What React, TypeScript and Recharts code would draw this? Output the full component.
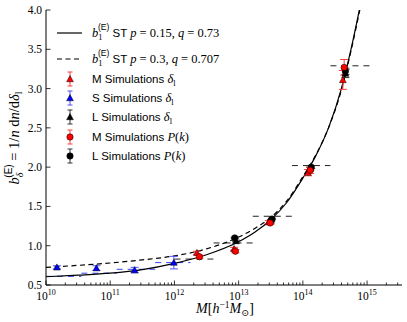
import React from 'react'
import { ComposedChart, Line, Scatter, XAxis, YAxis, ErrorBar, ReferenceLine, Legend } from 'recharts'

// ST bias curves
const curveMass = [1e10, 3.16e10, 1e11, 3.16e11, 1e12, 3.16e12, 1e13, 1.78e13, 3.16e13, 5.62e13, 1e14, 1.58e14, 2.51e14, 3.98e14, 5.62e14, 7.94e14]
const stSolid = [0.605, 0.625, 0.65, 0.695, 0.775, 0.885, 1.05, 1.17, 1.33, 1.55, 1.86, 2.14, 2.5, 3.0, 3.5, 4.08]
const stDashed = [0.725, 0.75, 0.78, 0.82, 0.87, 0.96, 1.11, 1.22, 1.36, 1.57, 1.88, 2.15, 2.5, 2.98, 3.48, 4.05]

// simulations
const mDeltaMass = [2.24e12, 8.5e12, 2.95e13, 1.2e14, 4.2e14]
const mDeltaBias = [0.91, 0.96, 1.3, 1.93, 3.11]
const mDeltaErr = [0.02, 0.02, 0.02, 0.04, 0.12]
const sDeltaMass = [1.48e10, 6.1e10, 2.4e11, 9.8e11]
const sDeltaBias = [0.725, 0.715, 0.69, 0.785]
const sDeltaErr = [0.02, 0.03, 0.035, 0.08]
const lDeltaMass = [9.1e12, 3.2e13, 1.3e14, 4.6e14]
const lDeltaBias = [1.06, 1.32, 1.98, 3.19]
const lDeltaErr = [0.01, 0.01, 0.02, 0.05]
const mPkMass = [2.45e12, 8.9e12, 3.1e13, 1.3e14, 4.4e14]
const mPkBias = [0.86, 0.93, 1.29, 1.96, 3.27]
const mPkErr = [0.02, 0.02, 0.02, 0.04, 0.1]
const lPkMass = [8.7e12, 3.3e13, 1.35e14, 4.6e14]
const lPkBias = [1.1, 1.34, 2.0, 3.22]
const lPkErr = [0.01, 0.01, 0.02, 0.04]

// bin-averaged ST values (dashed steps)
const binEdgesS = [1e10, 3.55e10, 1.26e11, 5.01e11, 1.78e12]
const binLevelsS = [0.61, 0.65, 0.7, 0.785]
const binEdgesL = [1e12, 4.07e12, 1.66e13, 6.76e13, 2.69e14, 1.17e15]
const binLevelsL = [0.83, 1.035, 1.375, 2.02, 3.29]

const xTicksMajor = [1e10, 1e11, 1e12, 1e13, 1e14, 1e15]
const yTicks = [0.5, 1.0, 1.5, 2.0, 2.5, 3.0, 3.5, 4.0]

const xMax = 3.5e15
const xTicksAll = xTicksMajor.flatMap((d) => [1, 2, 3, 4, 5, 6, 7, 8, 9].map((k) => k * d)).filter((v) => v <= xMax)

const SERIF = '"Liberation Serif", "DejaVu Serif", serif'
const SANS = '"Liberation Sans", "DejaVu Sans", sans-serif'

const curve = (ys: number[]) => curveMass.map((m, i) => ({ x: m, y: ys[i] }))
const points = (xs: number[], ys: number[], es: number[]) => xs.map((m, i) => ({ x: m, y: ys[i], err: es[i] }))

const isMajor = (v: number) => {
    const e = Math.round(Math.log10(v))
    return Math.abs(v - Math.pow(10, e)) < 1e-6 * v
}

function XTick(props: any) {
    const { x, y, payload, top } = props
    const v = payload.value
    const major = isMajor(v)
    const len = major ? 4.5 : 2.5
    const dir = top ? 1 : -1
    return (
        <g>
            <line x1={x} x2={x} y1={y} y2={y + dir * len} stroke="#000" strokeWidth={0.8} />
            {major && !top && (
                <text x={x} y={y + 15} textAnchor="middle" fontFamily={SERIF} fontSize={11.5} fill="#000">
                    10<tspan dy={-5} fontSize={8}>{Math.round(Math.log10(v))}</tspan>
                </text>
            )}
        </g>
    )
}

function YTick(props: any) {
    const { x, y, payload, right } = props
    const dir = right ? -1 : 1
    return (
        <g>
            <line x1={x} x2={x + dir * 4.5} y1={y} y2={y} stroke="#000" strokeWidth={0.8} />
            {!right && (
                <text x={x - 4} y={y + 4} textAnchor="end" fontFamily={SERIF} fontSize={11.5} fill="#000">
                    {payload.value.toFixed(1)}
                </text>
            )}
        </g>
    )
}

function Tri({ cx, cy, fill }: any) {
    const r = 3.4
    return <polygon points={`${cx},${cy - r} ${cx - r},${cy + r * 0.8} ${cx + r},${cy + r * 0.8}`} fill={fill} stroke="#000" strokeWidth={0.5} />
}

function Dot({ cx, cy, fill }: any) {
    return <circle cx={cx} cy={cy} r={3.2} fill={fill} stroke="#000" strokeWidth={0.5} />
}

function YLabel() {
    const x = 19
    const y = 138
    return (
        <text transform={`rotate(-90 ${x} ${y})`} x={x} y={y} textAnchor="middle" fontFamily={SERIF} fontSize={14.5} fill="#000">
            <tspan fontStyle="italic">b</tspan>
            <tspan dy={4} fontSize={10} fontStyle="italic">δ</tspan>
            <tspan dx={-5} dy={-11} fontSize={10} fontFamily={SANS}>(E)</tspan>
            <tspan dy={7}> = 1/</tspan>
            <tspan fontStyle="italic">n</tspan>
            <tspan> d</tspan>
            <tspan fontStyle="italic">n</tspan>
            <tspan>/d</tspan>
            <tspan fontStyle="italic">δ</tspan>
            <tspan dy={3} fontSize={10}>l</tspan>
        </text>
    )
}

function XLabel() {
    return (
        <text x={225} y={313} textAnchor="middle" fontFamily={SERIF} fontSize={14} fill="#000">
            <tspan fontStyle="italic">M</tspan>
            <tspan>[</tspan>
            <tspan fontStyle="italic">h</tspan>
            <tspan dy={-5} fontSize={9.5}>−1</tspan>
            <tspan dy={5} fontStyle="italic">M</tspan>
            <tspan dy={3} fontSize={9.5}>⊙</tspan>
            <tspan dy={-3}>]</tspan>
        </text>
    )
}

function LegendMarker({ y, color, barColor, tri }: any) {
    const cx = 18
    return (
        <g>
            <line x1={cx} x2={cx} y1={y - 7} y2={y + 7} stroke={barColor} strokeWidth={1} />
            <line x1={cx - 2.5} x2={cx + 2.5} y1={y - 7} y2={y - 7} stroke={barColor} strokeWidth={1} />
            <line x1={cx - 2.5} x2={cx + 2.5} y1={y + 7} y2={y + 7} stroke={barColor} strokeWidth={1} />
            {tri ? <Tri cx={cx} cy={y} fill={color} /> : <Dot cx={cx} cy={y} fill={color} />}
        </g>
    )
}

function StText({ y, p, q }: any) {
    return (
        <text x={40} y={y + 4} fontFamily={SERIF} fontSize={12.5} fill="#000">
            <tspan fontStyle="italic">b</tspan>
            <tspan dy={3} fontSize={8.5}>1</tspan>
            <tspan dx={-4.5} dy={-10} fontSize={8.5} fontFamily={SANS}>(E)</tspan>
            <tspan dy={7} fontFamily={SANS} fontSize={11.5}> ST </tspan>
            <tspan fontStyle="italic">p</tspan>
            <tspan> = {p}, </tspan>
            <tspan fontStyle="italic">q</tspan>
            <tspan> = {q}</tspan>
        </text>
    )
}

function SimText({ y, label, pk }: any) {
    return (
        <text x={40} y={y + 4} fontFamily={SANS} fontSize={11.5} fill="#000">
            {label} Simulations{' '}
            {pk ? (
                <tspan fontFamily={SERIF} fontSize={12.5}>
                    <tspan fontStyle="italic">P</tspan>(<tspan fontStyle="italic">k</tspan>)
                </tspan>
            ) : (
                <tspan fontFamily={SERIF} fontSize={12.5}>
                    <tspan fontStyle="italic">δ</tspan>
                    <tspan dy={3} fontSize={8.5}>l</tspan>
                </tspan>
            )}
        </text>
    )
}

function LegendBox() {
    return (
        <svg width={190} height={150}>
            <line x1={5} x2={30} y1={15} y2={15} stroke="#000" strokeWidth={1.2} />
            <StText y={15} p="0.15" q="0.73" />
            <line x1={5} x2={30} y1={41} y2={41} stroke="#000" strokeWidth={1.2} strokeDasharray="5 3.5" />
            <StText y={41} p="0.3" q="0.707" />
            <LegendMarker y={61} color="#ff0000" barColor="#ff4040" tri />
            <SimText y={61} label="M" />
            <LegendMarker y={80} color="#0000ff" barColor="#5050ff" tri />
            <SimText y={80} label="S" />
            <LegendMarker y={99} color="#000" barColor="#333" tri />
            <SimText y={99} label="L" />
            <LegendMarker y={119} color="#ff0000" barColor="#ff4040" />
            <SimText y={119} label="M" pk />
            <LegendMarker y={138} color="#000" barColor="#333" />
            <SimText y={138} label="L" pk />
        </svg>
    )
}

export default function App() {
    const segS = binLevelsS.map((v, i) => [{ x: binEdgesS[i], y: v }, { x: binEdgesS[i + 1], y: v }])
    const segL = binLevelsL.map((v, i) => [{ x: binEdgesL[i], y: v }, { x: binEdgesL[i + 1], y: v }])
    return (
        <div style={{ position: 'absolute', left: 0, top: 0, width: 407, height: 322, background: '#fff' }}>
            <ComposedChart width={407} height={322} margin={{ top: 10, right: 5, bottom: 0, left: 0 }}>
                <XAxis
                    dataKey="x"
                    type="number"
                    scale="log"
                    domain={[1e10, xMax]}
                    allowDataOverflow
                    ticks={xTicksAll}
                    interval={0}
                    tick={<XTick />}
                    tickLine={false}
                    tickSize={0}
                    tickMargin={0}
                    height={37}
                    axisLine={{ stroke: '#000', strokeWidth: 1 }}
                    label={<XLabel />}
                />
                <XAxis
                    xAxisId="top"
                    orientation="top"
                    type="number"
                    scale="log"
                    domain={[1e10, xMax]}
                    allowDataOverflow
                    ticks={xTicksAll}
                    interval={0}
                    tick={<XTick top />}
                    tickLine={false}
                    tickSize={0}
                    tickMargin={0}
                    height={0}
                    axisLine={{ stroke: '#000', strokeWidth: 1 }}
                />
                <YAxis
                    type="number"
                    domain={[0.5, 4]}
                    allowDataOverflow
                    ticks={yTicks}
                    interval={0}
                    tick={<YTick />}
                    tickLine={false}
                    tickSize={0}
                    tickMargin={0}
                    width={46}
                    axisLine={{ stroke: '#000', strokeWidth: 1 }}
                    label={<YLabel />}
                />
                <YAxis
                    yAxisId="right"
                    orientation="right"
                    type="number"
                    domain={[0.5, 4]}
                    allowDataOverflow
                    ticks={yTicks}
                    interval={0}
                    tick={<YTick right />}
                    tickLine={false}
                    tickSize={0}
                    tickMargin={0}
                    width={0}
                    axisLine={{ stroke: '#000', strokeWidth: 1 }}
                />
                {segS.map((s, i) => (
                    <ReferenceLine key={'s' + i} segment={s} stroke="#3344ee" strokeWidth={1} strokeDasharray="6 5" ifOverflow="hidden" />
                ))}
                {segL.map((s, i) => (
                    <ReferenceLine key={'l' + i} segment={s} stroke="#222" strokeWidth={1} strokeDasharray="6 5" ifOverflow="hidden" />
                ))}
                <Line data={curve(stSolid)} dataKey="y" type="monotone" stroke="#000" strokeWidth={1.2} dot={false} isAnimationActive={false} />
                <Line data={curve(stDashed)} dataKey="y" type="monotone" stroke="#000" strokeWidth={1.2} strokeDasharray="5 3.5" dot={false} isAnimationActive={false} />
                <Scatter data={points(sDeltaMass, sDeltaBias, sDeltaErr)} dataKey="y" shape={(p: any) => <Tri cx={p.cx} cy={p.cy} fill="#0000ff" />} isAnimationActive={false}>
                    <ErrorBar dataKey="err" direction="y" width={4} stroke="#5050ff" strokeWidth={1} />
                </Scatter>
                <Scatter data={points(lDeltaMass, lDeltaBias, lDeltaErr)} dataKey="y" shape={(p: any) => <Tri cx={p.cx} cy={p.cy} fill="#000" />} isAnimationActive={false}>
                    <ErrorBar dataKey="err" direction="y" width={4} stroke="#333" strokeWidth={1} />
                </Scatter>
                <Scatter data={points(lPkMass, lPkBias, lPkErr)} dataKey="y" shape={(p: any) => <Dot cx={p.cx} cy={p.cy} fill="#000" />} isAnimationActive={false}>
                    <ErrorBar dataKey="err" direction="y" width={4} stroke="#333" strokeWidth={1} />
                </Scatter>
                <Scatter data={points(mDeltaMass, mDeltaBias, mDeltaErr)} dataKey="y" shape={(p: any) => <Tri cx={p.cx} cy={p.cy} fill="#ff0000" />} isAnimationActive={false}>
                    <ErrorBar dataKey="err" direction="y" width={4} stroke="#ff4040" strokeWidth={1} />
                </Scatter>
                <Scatter data={points(mPkMass, mPkBias, mPkErr)} dataKey="y" shape={(p: any) => <Dot cx={p.cx} cy={p.cy} fill="#ff0000" />} isAnimationActive={false}>
                    <ErrorBar dataKey="err" direction="y" width={4} stroke="#ff4040" strokeWidth={1} />
                </Scatter>
                <Legend
                    content={<LegendBox />}
                    layout="vertical"
                    align="center"
                    verticalAlign="middle"
                    wrapperStyle={{ left: 52, top: 18, width: 190, height: 150 }}
                />
            </ComposedChart>
        </div>
    )
}
